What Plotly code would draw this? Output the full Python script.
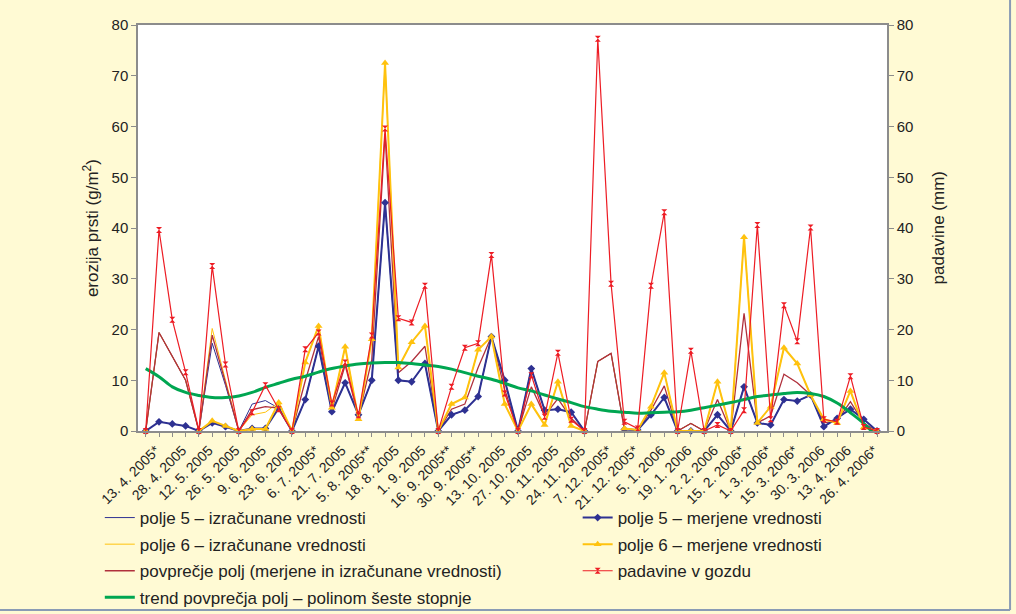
import plotly.graph_objects as go

# tick labels (every second sampling date is labelled)
date_labels = ["13. 4. 2005*", "28. 4. 2005", "12. 5. 2005", "26. 5. 2005", "9. 6. 2005",
               "23. 6. 2005", "6. 7. 2005*", "21. 7. 2005", "5. 8. 2005**", "18. 8. 2005",
               "1. 9. 2005", "16. 9. 2005**", "30. 9. 2005**", "13. 10. 2005", "27. 10. 2005",
               "10. 11. 2005", "24. 11. 2005", "7. 12. 2005*", "21. 12. 2005*", "5. 1. 2006",
               "19. 1. 2006", "2. 2. 2006", "15. 2. 2006*", "1. 3. 2006*", "15. 3. 2006*",
               "30. 3. 2006", "13. 4. 2006", "26. 4. 2006*"]

# polje 5 - izracunane (calculated)
p5_calc = [0, 19.4, 14.7, 10.0, 0, 17.3, 9.0, 0, 5.3, 6.0, 4.5, 0, 6.2, 16.7, 3.8, 9.5, 3.2, 10.0,
           45.0, 10.0, 9.7, 13.3, 0, 3.2, 4.1, 6.8, 18.6, 10.0, 0, 12.3, 4.1, 4.3, 3.7, 0, 13.7, 15.3,
           0.3, 0.2, 3.2, 6.6, 0, 1.5, 0, 3.2, 0, 8.7, 1.6, 1.2, 6.2, 5.9, 7.1, 0.85, 2.5, 4.3, 2.3, 0]
# polje 6 - izracunane (calculated)
p6_calc = [0, 19.4, 14.7, 10.0, 0, 20.2, 10.0, 0, 3.2, 3.7, 5.6, 0, 13.5, 20.7, 4.6, 16.6, 2.3, 18.1,
           72.5, 12.5, 17.5, 20.7, 0, 5.3, 6.6, 16.0, 18.6, 5.3, 0, 5.3, 1.2, 9.7, 1.0, 0, 13.7, 15.3,
           0.5, 0.2, 4.8, 11.5, 0, 1.5, 0, 9.7, 0, 38.2, 1.6, 4.8, 16.4, 13.3, 7.1, 2.3, 1.6, 7.9, 0.7, 0]
# povprecje polj (average)
avg_fields = [0, 19.4, 14.7, 10.0, 0, 18.9, 9.5, 0, 4.2, 4.8, 4.5, 0, 9.9, 18.6, 4.2, 13.0, 2.8, 14.0,
              58.5, 11.5, 13.7, 16.7, 0, 4.3, 5.3, 12.5, 18.6, 8.2, 0, 8.7, 3.0, 6.4, 2.5, 0, 13.7, 15.3,
              0.4, 0.2, 4.1, 8.9, 0, 1.5, 0, 6.2, 0, 23.2, 1.6, 3.0, 11.2, 9.5, 7.1, 1.6, 2.0, 5.8, 1.5, 0]
# polje 5 - merjene (measured)
p5_meas = [0, 1.8, 1.4, 1.0, 0, 1.6, 0.85, 0, 0.5, 0.5, 4.5, 0, 6.2, 16.7, 3.8, 9.5, 3.2, 10.0,
           45.0, 10.0, 9.7, 13.3, 0, 3.2, 4.1, 6.8, 18.6, 10.0, 0, 12.3, 4.1, 4.3, 3.7, 0, None, None,
           0.3, 0.2, 3.2, 6.6, 0, 0, 0, 3.2, 0, 8.7, 1.6, 1.2, 6.2, 5.9, 7.1, 0.85, 2.5, 4.3, 2.3, 0]
# polje 6 - merjene (measured)
p6_meas = [0, None, None, None, 0, 2.0, 1.0, 0, 0.4, 0.4, 5.6, 0, 13.5, 20.7, 4.6, 16.6, 2.3, 18.1,
           72.5, 12.5, 17.5, 20.7, 0, 5.3, 6.6, 16.0, 18.6, 5.3, 0, 5.3, 1.2, 9.7, 1.0, 0, None, None,
           0.5, 0.2, 4.8, 11.5, 0, 0, 0, 9.7, 0, 38.2, 1.6, 4.8, 16.4, 13.3, 7.1, 2.3, 1.6, 7.9, 0.7, 0]
# padavine v gozdu (mm)
rain = [0, 39.6, 21.9, 11.6, 0, 32.5, 13.1, 0, 3.7, 9.0, 4.3, 0, 16.1, 19.4, 5.4, 13.5, 3.1, 18.8,
        59.6, 22.2, 21.4, 28.6, 0, 8.7, 16.4, 17.3, 34.7, 7.4, 0, 11.0, 2.8, 15.4, 2.2, 0, 77.3, 29.0,
        1.8, 0.5, 28.6, 43.1, 0, 15.8, 0, 1.2, 0, 4.1, 40.6, 2.3, 24.8, 17.7, 40.1, 2.3, 1.8, 10.8, 0.8, 0]
# trend (polinom seste stopnje)
trend = [12.3, 10.7, 8.7, 7.6, 7.0, 6.6, 6.6, 6.9, 7.6, 8.6, 9.4, 10.2, 10.8, 11.6, 12.3, 12.8, 13.2, 13.4,
         13.5, 13.5, 13.3, 13.0, 12.7, 12.2, 11.5, 10.8, 10.2, 9.4, 8.5, 7.9, 7.1, 6.3, 5.6, 4.8, 4.3, 3.9,
         3.7, 3.5, 3.6, 3.7, 3.8, 4.1, 4.6, 5.1, 5.6, 6.2, 6.8, 7.1, 7.4, 7.6, 7.4, 6.8, 5.5, 3.6, 1.5, -1.2]

x = list(range(len(rain)))
tick_text = []
for i in x:
    tick_text.append(date_labels[i // 2] if i % 2 == 0 else "")

BLUE = "#2e3192"
YELLOW = "#ffc20e"
AVG = "#b0303c"
RED = "#ed1c24"
GREEN = "#00a651"
FONT = "Liberation Sans, Arial, sans-serif"

fig = go.Figure()
fig.add_trace(go.Scatter(x=x, y=p5_calc, mode="lines", name="polje 5 – izračunane vrednosti",
                         line=dict(color=BLUE, width=1), legend="legend", legendgroup="a"))
fig.add_trace(go.Scatter(x=x, y=p6_calc, mode="lines", name="polje 6 – izračunane vrednosti",
                         line=dict(color=YELLOW, width=1), legend="legend", legendgroup="b"))
fig.add_trace(go.Scatter(x=x, y=avg_fields, mode="lines",
                         name="povprečje polj (merjene in izračunane vrednosti)",
                         line=dict(color=AVG, width=1.3), legend="legend", legendgroup="c"))
fig.add_trace(go.Scatter(x=x, y=p5_meas, mode="lines+markers", name="polje 5 – merjene vrednosti",
                         line=dict(color=BLUE, width=2), marker=dict(symbol="diamond", size=6, color=BLUE),
                         cliponaxis=False, legend="legend2", legendgroup="e"))
fig.add_trace(go.Scatter(x=x, y=p6_meas, mode="lines+markers", name="polje 6 – merjene vrednosti",
                         line=dict(color=YELLOW, width=2), marker=dict(symbol="triangle-up", size=7, color=YELLOW),
                         cliponaxis=False, legend="legend2", legendgroup="f"))
fig.add_trace(go.Scatter(x=x, y=trend, mode="lines", name="trend povprečja polj – polinom šeste stopnje",
                         line=dict(color=GREEN, width=3, shape="spline"), legend="legend", legendgroup="d"))
fig.add_trace(go.Scatter(x=x, y=rain, mode="lines+markers", name="padavine v gozdu", yaxis="y2",
                         line=dict(color=RED, width=1.2), marker=dict(symbol="hourglass", size=6, color=RED),
                         cliponaxis=False, legend="legend2", legendgroup="g"))

axis_common = dict(range=[0, 80], dtick=10, showgrid=False, zeroline=False, showline=True,
                   linecolor="#8c8c8c", linewidth=1.5, ticks="outside", ticklen=5, tickcolor="#8c8c8c",
                   tickfont=dict(size=15, color="#222"), automargin=False)

legend_common = dict(y=-0.17, xanchor="left", yanchor="top", bgcolor="rgba(0,0,0,0)",
                     tracegroupgap=1.5, font=dict(size=17, family=FONT, color="#222"))

fig.update_layout(
    width=1016, height=614,
    margin=dict(l=138, r=129, t=25, b=183, autoexpand=False),
    paper_bgcolor="#fffad4", plot_bgcolor="#ffffff",
    font=dict(family=FONT, size=15, color="#222"),
    xaxis=dict(range=[-0.58, 55.75], tickmode="array", tickvals=x, ticktext=tick_text, tickangle=-45,
               showgrid=False, zeroline=False, showline=True, mirror=True, linecolor="#8c8c8c", linewidth=1.5,
               ticks="outside", ticklen=4, tickcolor="#8c8c8c", tickfont=dict(size=14, color="#222"),
               ticklabelshift=10, automargin=False),
    yaxis=dict(**axis_common),
    yaxis2=dict(overlaying="y", side="right", **axis_common),
    legend=dict(x=-0.051, **legend_common),
    legend2=dict(x=0.587, **legend_common),
    annotations=[
        dict(text="erozija prsti (g/m<sup>2</sup>)", x=-0.08, y=0.5, xref="paper", yref="paper",
             textangle=-90, showarrow=False, font=dict(size=17, family=FONT, color="#222")),
        dict(text="padavine (mm)", x=1.084, y=0.5, xref="paper", yref="paper",
             textangle=-90, showarrow=False, font=dict(size=17, family=FONT, color="#222")),
    ],
    shapes=[
        dict(type="line", xref="paper", yref="paper", x0=1.1643, x1=1.1643, y0=-0.441, y1=1.07,
             line=dict(color="#8a9bb5", width=2), layer="above"),
        dict(type="line", xref="paper", yref="paper", x0=-0.19, x1=1.1643, y0=-0.441, y1=-0.441,
             line=dict(color="#8a9bb5", width=2), layer="above"),
    ],
)

# remove the default page margin so the figure sits at the window's top-left corner
fig.write_html("out.html", config={"displayModeBar": False},
               post_script="document.body.style.margin='0';")
